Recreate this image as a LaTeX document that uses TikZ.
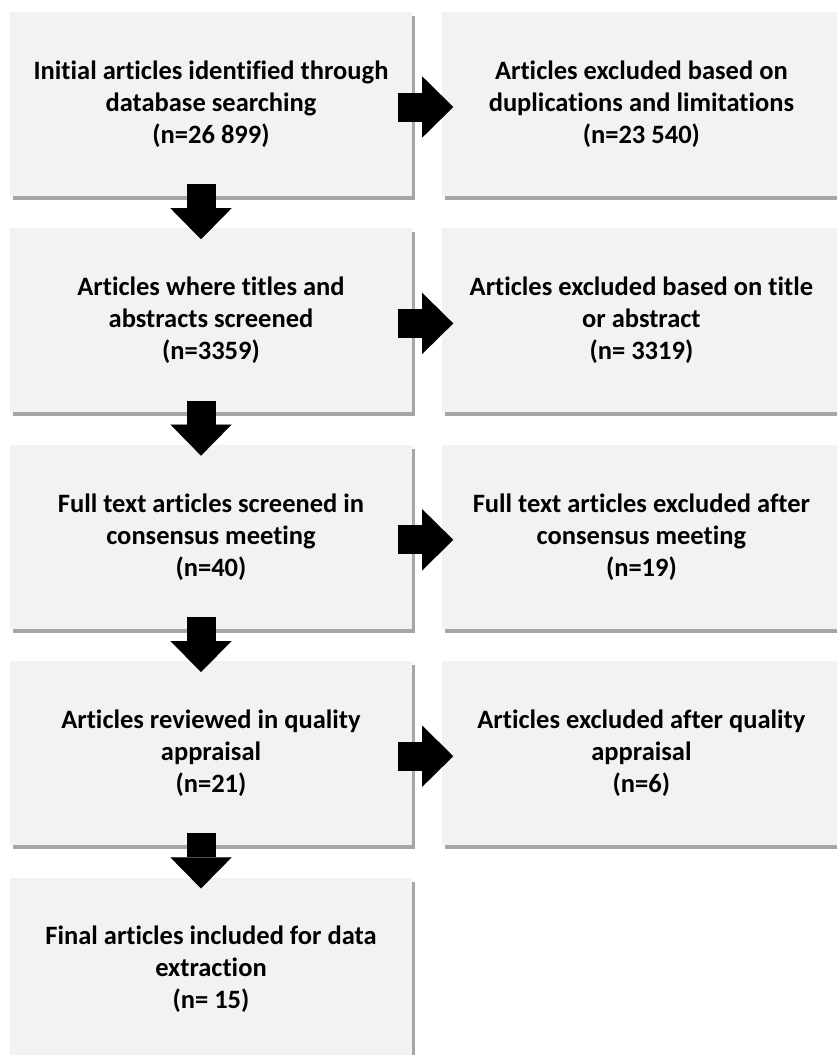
\documentclass[tikz,border=0pt]{standalone}
\usepackage{fontspec}
\setmainfont{Carlito}[Ligatures=NoCommon]
\usetikzlibrary{positioning,shadows,arrows.meta}
\definecolor{boxgray}{HTML}{F2F2F2}
\tikzset{
  box/.style={fill=boxgray, minimum width=402pt, minimum height=184pt, align=center,
    font=\bfseries\fontsize{26.5}{32}\selectfont, execute at begin node={\rule{0pt}{26pt}},
    drop shadow={shadow xshift=3pt, shadow yshift=-4pt, fill=black, opacity=.35}},
  exbox/.style={box, minimum width=398pt},
  flow/.style={line width=29pt, -{Triangle[width=61pt,length=31pt,line width=0.01pt]}},
}
\begin{document}
\begin{tikzpicture}
  \useasboundingbox (0,0) rectangle (837pt,-1055pt);
  % main column
  \node[box] (a1) at (211pt,-104pt) {Initial articles identified through\\database searching\\(n=26 899)};
  \node[box] (a2) [below=32pt of a1] {Articles where titles and\\abstracts screened\\(n=3359)};
  \node[box] (a3) [below=32pt of a2] {Full text articles screened in\\consensus meeting\\(n=40)};
  \node[box] (a4) [below=32pt of a3] {Articles reviewed in quality\\appraisal\\(n=21)};
  \node[box] (a5) [below=32pt of a4] {Final articles included for data\\extraction\\(n= 15)};
  % excluded column
  \node[exbox] (e1) [right=30pt of a1] {Articles excluded based on\\duplications and limitations\\(n=23 540)};
  \node[exbox] (e2) [right=30pt of a2] {Articles excluded based on title\\or abstract\\(n= 3319)};
  \node[exbox] (e3) [right=30pt of a3] {Full text articles excluded after\\consensus meeting\\(n=19)};
  \node[exbox] (e4) [right=30pt of a4] {Articles excluded after quality\\appraisal\\(n=6)};
  % arrows
  \foreach \i/\j in {1/2,2/3,3/4,4/5}
    \draw[flow, shorten <=-12pt, shorten >=-11pt] ([xshift=-10pt]a\i.south) -- ([xshift=-10pt]a\j.north);
  \foreach \i in {1,...,4}
    \draw[flow, shorten <=-14pt, shorten >=-11pt] ([yshift=-3pt]a\i.east) -- ([yshift=-3pt]e\i.west);
\end{tikzpicture}
\end{document}
